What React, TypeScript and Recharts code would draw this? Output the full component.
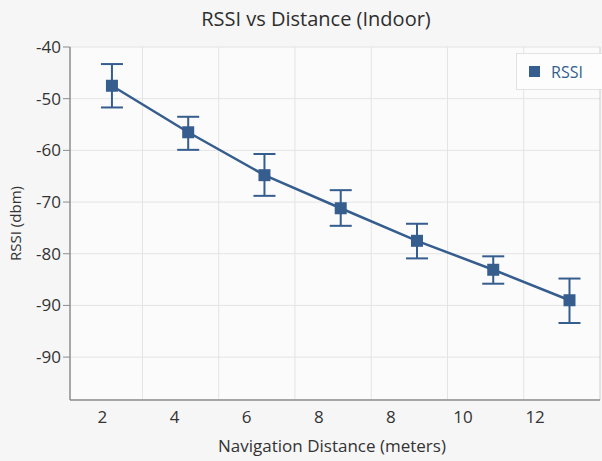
import { LineChart, Line, XAxis, YAxis, CartesianGrid, ErrorBar, ReferenceLine } from "recharts";

const distanceLabels = ["2", "4", "6", "8", "8", "10", "12"];
const rssiValues = [-47.5, -56.5, -64.8, -71.2, -77.5, -83.1, -89.0];
// [below, above] error for each point
const rssiErrors = [
  [4.2, 4.2],
  [3.4, 3.0],
  [4.0, 4.1],
  [3.4, 3.5],
  [3.4, 3.3],
  [2.7, 2.6],
  [4.4, 4.2],
];
const yTicks = [-40, -50, -60, -70, -80, -90, -100];
const yTickLabels = ["-40", "-50", "-60", "-70", "-80", "-90", "-90"];

const BLUE = "#355d8e";
const FONT = "'Open Sans', 'Noto Sans', sans-serif";

const data = rssiValues.map((v, i) => ({ idx: i, rssi: v, err: rssiErrors[i] }));

const SquareDot = (props: any) => {
  const { cx, cy } = props;
  if (cx == null || cy == null) return null;
  return <rect x={cx - 6} y={cy - 6} width={12} height={12} fill={BLUE} />;
};

export default function App() {
  return (
    <div style={{ position: "fixed", left: 0, top: 0, width: 602, height: 461, background: "#f6f6f6", fontFamily: FONT }}>
      <div
        style={{
          position: "absolute",
          top: 5,
          left: 0,
          width: 632,
          textAlign: "center",
          fontSize: 20,
          color: "#2e2e2e",
        }}
      >
        RSSI vs Distance (Indoor)
      </div>
      <LineChart width={602} height={461} data={data} margin={{ top: 47, right: 2, bottom: 0, left: 8 }}>
        <CartesianGrid vertical={false} stroke="#e4e4e4" fill="#fbfbfb" />
        {distanceLabels.slice(1).map((_, i) => (
          <ReferenceLine key={i} xAxisId="pts" x={i + 0.4} stroke="#e4e4e4" />
        ))}
        <ReferenceLine xAxisId="pts" x={6.4} stroke="#cfcfcf" />
        <XAxis
          xAxisId="pts"
          dataKey="idx"
          type="number"
          domain={[-0.55, 6.4]}
          allowDataOverflow
          hide
        />
        {/* tick labels in the photo sit a little left of the points */}
        <XAxis
          xAxisId="labels"
          dataKey="idx"
          type="number"
          domain={[-0.45, 6.9]}
          allowDataOverflow
          ticks={distanceLabels.map((_, i) => i)}
          interval={0}
          tickFormatter={(v: number) => distanceLabels[v]}
          tickLine={false}
          axisLine={{ stroke: "#8c8c8c", strokeWidth: 1.5 }}
          tick={{ fill: "#333", fontSize: 17, fontFamily: FONT }}
          tickMargin={5}
          height={61}
          label={{ value: "Navigation Distance (meters)", position: "insideBottom", offset: 9, dx: -3, fill: "#333", fontSize: 17, fontFamily: FONT }}
        />
        <YAxis
          type="number"
          domain={[-108.3, -40]}
          allowDataOverflow
          ticks={yTicks}
          interval={0}
          tickFormatter={(v: number) => yTickLabels[yTicks.indexOf(v)]}
          tickLine={{ stroke: "#8c8c8c" }}
          tickSize={7}
          axisLine={{ stroke: "#8c8c8c", strokeWidth: 1.5 }}
          tick={{ fill: "#333", fontSize: 17, fontFamily: FONT }}
          width={62}
          label={{ value: "RSSI (dbm)", angle: -90, position: "insideLeft", offset: 8, textAnchor: "middle", fill: "#333", fontSize: 15, fontFamily: FONT }}
        />
        <Line
          xAxisId="labels"
          dataKey="rssi"
          stroke="none"
          dot={false}
          activeDot={false}
          legendType="none"
          isAnimationActive={false}
        />
        <Line
          xAxisId="pts"
          type="linear"
          dataKey="rssi"
          name="RSSI"
          stroke={BLUE}
          strokeWidth={2.5}
          dot={<SquareDot />}
          activeDot={false}
          isAnimationActive={false}
        >
          <ErrorBar dataKey="err" direction="y" width={11} stroke={BLUE} strokeWidth={2} isAnimationActive={false} />
        </Line>
      </LineChart>
      <div
        style={{
          position: "absolute",
          left: 516,
          top: 53,
          width: 86,
          height: 37,
          background: "#fdfdfd",
          border: "1px solid #e2e2e2",
          borderRight: "none",
          boxSizing: "border-box",
          display: "flex",
          alignItems: "center",
          paddingLeft: 12,
          fontSize: 16,
          color: BLUE,
        }}
      >
        <span style={{ width: 11, height: 11, background: BLUE, display: "inline-block", marginRight: 11 }} />
        RSSI
      </div>
    </div>
  );
}
